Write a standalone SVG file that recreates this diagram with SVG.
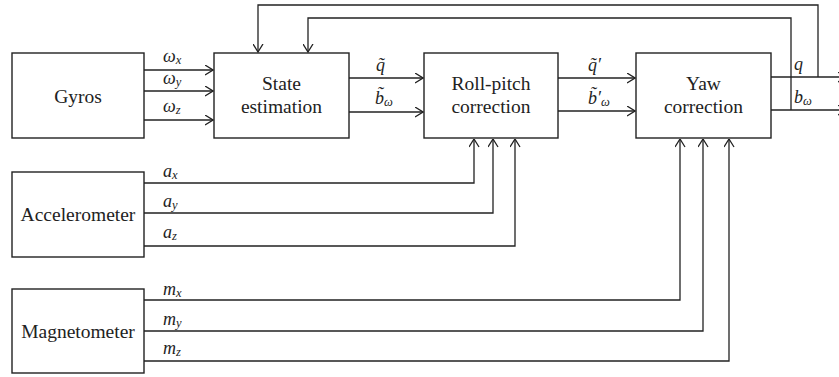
<svg xmlns="http://www.w3.org/2000/svg" width="839" height="377" viewBox="0 0 839 377">
  <style>
    .box { fill: #fff; stroke: #222; stroke-width: 1.4; }
    .lbl { font-size: 19.5px; fill: #222; text-anchor: middle; }
    .var { font-style: italic; font-size: 18px; fill: #222; }
    .sub { font-size: 12.5px; }
    .wire { fill: none; stroke: #222; stroke-width: 1.3; }
  </style>
  <defs>
    <marker id="arr" viewBox="0 0 9 11" refX="8.5" refY="5.5" markerWidth="9" markerHeight="11" markerUnits="userSpaceOnUse" orient="auto">
      <path d="M0.5,0.5 L8.5,5.5 L0.5,10.5" fill="none" stroke="#222" stroke-width="1.3"/>
    </marker>
  </defs>

  <!-- signal wires -->
  <g id="connectors">
    <!-- gyro rates into state estimation -->
    <line class="wire" x1="144" y1="70" x2="213" y2="70" marker-end="url(#arr)"/>
    <line class="wire" x1="144" y1="91" x2="213" y2="91" marker-end="url(#arr)"/>
    <line class="wire" x1="144" y1="120" x2="213" y2="120" marker-end="url(#arr)"/>
    <!-- state estimation to roll-pitch -->
    <line class="wire" x1="349" y1="78" x2="423" y2="78" marker-end="url(#arr)"/>
    <line class="wire" x1="349" y1="112" x2="423" y2="112" marker-end="url(#arr)"/>
    <!-- roll-pitch to yaw -->
    <line class="wire" x1="558" y1="78" x2="635" y2="78" marker-end="url(#arr)"/>
    <line class="wire" x1="558" y1="111" x2="635" y2="111" marker-end="url(#arr)"/>
    <!-- yaw outputs -->
    <line class="wire" x1="771" y1="77" x2="846" y2="77" marker-end="url(#arr)"/>
    <line class="wire" x1="771" y1="110" x2="846" y2="110" marker-end="url(#arr)"/>
    <!-- feedback loops -->
    <polyline class="wire" points="818,77 818,5 258,5 258,52" marker-end="url(#arr)"/>
    <polyline class="wire" points="791,110 791,18 308,18 308,52" marker-end="url(#arr)"/>
    <!-- accelerometer into roll-pitch -->
    <polyline class="wire" points="144,183 474,183 474,139" marker-end="url(#arr)"/>
    <polyline class="wire" points="144,213 493,213 493,139" marker-end="url(#arr)"/>
    <polyline class="wire" points="144,246 515,246 515,139" marker-end="url(#arr)"/>
    <!-- magnetometer into yaw -->
    <polyline class="wire" points="144,300 680,300 680,139" marker-end="url(#arr)"/>
    <polyline class="wire" points="144,331 703,331 703,139" marker-end="url(#arr)"/>
    <polyline class="wire" points="144,361 729,361 729,139" marker-end="url(#arr)"/>
  </g>

  <!-- signal labels -->
  <g id="labels" font-family="'Liberation Serif', 'DejaVu Serif', serif">
    <text class="var" x="163" y="62">ω<tspan class="sub" dy="2">x</tspan></text>
    <text class="var" x="163" y="84">ω<tspan class="sub" dy="2">y</tspan></text>
    <text class="var" x="163" y="112">ω<tspan class="sub" dy="2">z</tspan></text>

    <text class="var" x="376" y="71">q̃</text>
    <text class="var" x="375" y="104">b̃<tspan class="sub" dy="2">ω</tspan></text>

    <text class="var" x="588" y="71">q̃′</text>
    <text class="var" x="588" y="104">b̃′<tspan class="sub" dy="2">ω</tspan></text>

    <text class="var" x="794" y="70">q</text>
    <text class="var" x="794" y="103">b<tspan class="sub" dy="2">ω</tspan></text>

    <text class="var" x="163" y="177">a<tspan class="sub" dy="2">x</tspan></text>
    <text class="var" x="163" y="207">a<tspan class="sub" dy="2">y</tspan></text>
    <text class="var" x="163" y="238">a<tspan class="sub" dy="2">z</tspan></text>

    <text class="var" x="163" y="295">m<tspan class="sub" dy="2">x</tspan></text>
    <text class="var" x="163" y="325">m<tspan class="sub" dy="2">y</tspan></text>
    <text class="var" x="163" y="354">m<tspan class="sub" dy="2">z</tspan></text>
  </g>

  <g font-family="'Liberation Serif', 'DejaVu Serif', serif">
    <g id="gyros">
      <rect class="box" x="12" y="53" width="132" height="85"/>
      <text class="lbl" x="78" y="103">Gyros</text>
    </g>
    <g id="state-estimation">
      <rect class="box" x="214" y="53" width="135" height="85"/>
      <text class="lbl" x="281.5" y="90">State</text>
      <text class="lbl" x="281.5" y="113">estimation</text>
    </g>
    <g id="roll-pitch-correction">
      <rect class="box" x="424" y="53" width="134" height="85"/>
      <text class="lbl" x="491" y="90">Roll-pitch</text>
      <text class="lbl" x="491" y="113">correction</text>
    </g>
    <g id="yaw-correction">
      <rect class="box" x="636" y="53" width="135" height="85"/>
      <text class="lbl" x="703.5" y="90">Yaw</text>
      <text class="lbl" x="703.5" y="113">correction</text>
    </g>
    <g id="accelerometer">
      <rect class="box" x="12" y="172" width="132" height="85"/>
      <text class="lbl" x="78" y="221">Accelerometer</text>
    </g>
    <g id="magnetometer">
      <rect class="box" x="12" y="289" width="132" height="84"/>
      <text class="lbl" x="78" y="338">Magnetometer</text>
    </g>
  </g>
</svg>
